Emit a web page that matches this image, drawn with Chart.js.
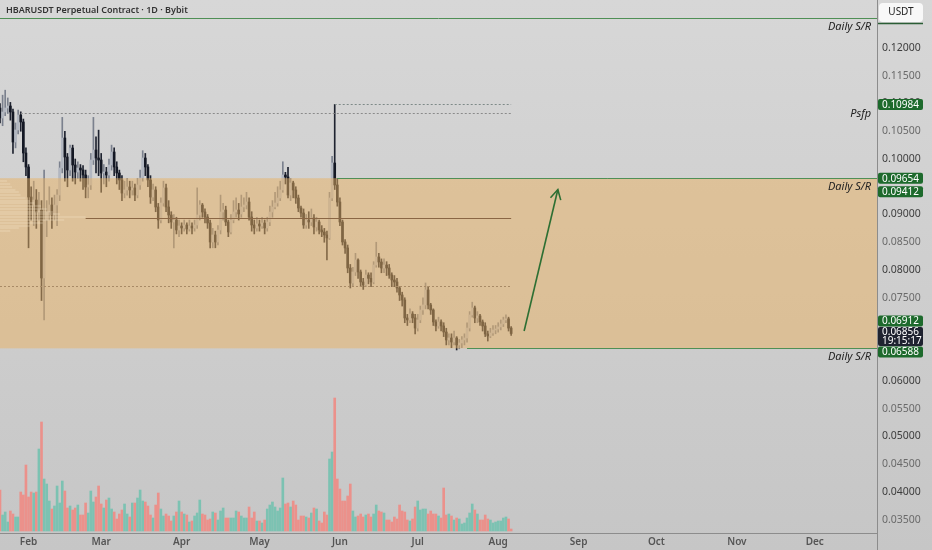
<!DOCTYPE html>
<html>
<head>
<meta charset="utf-8">
<script src="https://cdn.jsdelivr.net/npm/chart.js@4.4.1/dist/chart.umd.min.js"></script>
<style>
html, body { margin: 0; padding: 0; }
body { width: 932px; height: 550px; overflow: hidden; background: linear-gradient(#d7d7d7, #c6c6c6); }
#wrap { position: relative; width: 932px; height: 550px; }
</style>
</head>
<body>
<div id="wrap"><canvas id="chart"></canvas></div>
<script>
// HBARUSDT daily candles (first candle = Jan 21)
const opens = [
  0.10919, 0.10739, 0.10847, 0.10919, 0.10955, 0.10847, 0.10306, 0.10523, 0.10793, 0.10667,
  0.10108, 0.09856, 0.09315, 0.09171, 0.09261, 0.09045, 0.09081, 0.07856, 0.08901, 0.09045,
  0.09171, 0.08991, 0.09171, 0.09351, 0.09838, 0.10378, 0.10036, 0.09802, 0.10198, 0.09892,
  0.09766, 0.09838, 0.09802, 0.09712, 0.09496, 0.09532, 0.09982, 0.10162, 0.10018, 0.09982,
  0.09748, 0.09766, 0.09712, 0.09892, 0.10126, 0.09856, 0.09748, 0.09622, 0.09387, 0.09442,
  0.09496, 0.09442, 0.09478, 0.09351, 0.09532, 0.09658, 0.10018, 0.09856, 0.09622, 0.09315,
  0.09442, 0.09135, 0.08901, 0.09207, 0.09478, 0.09135, 0.08991, 0.08865, 0.08901, 0.08721,
  0.08793, 0.08757, 0.08811, 0.08739, 0.08793, 0.08757, 0.08811, 0.08991, 0.09171, 0.09045,
  0.08955, 0.08847, 0.08505, 0.08631, 0.08505, 0.08721, 0.09045, 0.09081, 0.08865, 0.08685,
  0.08901, 0.09045, 0.09081, 0.09009, 0.09135, 0.09171, 0.09225, 0.08955, 0.08811, 0.08757,
  0.08829, 0.08793, 0.08847, 0.08757, 0.08865, 0.09045, 0.09135, 0.09207, 0.09297, 0.09442,
  0.09712, 0.09676, 0.09351, 0.09568, 0.09442, 0.09297, 0.09117, 0.09027, 0.08811, 0.08901,
  0.08865, 0.08937, 0.08775, 0.08865, 0.08721, 0.08685, 0.08631, 0.08577, 0.09297, 0.09928,
  0.09532, 0.09225, 0.08865, 0.08505, 0.08397, 0.08036, 0.07766, 0.07964, 0.08180, 0.07964,
  0.07784, 0.07730, 0.07910, 0.07850, 0.07784, 0.08090, 0.08235, 0.08144, 0.08036, 0.08090,
  0.08036, 0.07910, 0.07820, 0.07784, 0.07676, 0.07550, 0.07460, 0.07136, 0.07100, 0.07208,
  0.07136, 0.06954, 0.07100, 0.07280, 0.07370, 0.07640, 0.07370, 0.07280, 0.07064, 0.06992,
  0.07064, 0.06992, 0.06883, 0.06739, 0.06775, 0.06703, 0.06775, 0.06649, 0.06685, 0.06739,
  0.06775, 0.06954, 0.07190, 0.07316, 0.07136, 0.07172, 0.07064, 0.06992, 0.06847, 0.06811,
  0.06865, 0.06919, 0.06937, 0.06974, 0.07028, 0.07100, 0.07120, 0.06954
];
const closes = [
  0.10739, 0.10847, 0.10919, 0.10955, 0.10847, 0.10306, 0.10523, 0.10793, 0.10667, 0.10108,
  0.09856, 0.09315, 0.09171, 0.09261, 0.09045, 0.09081, 0.07856, 0.08901, 0.09045, 0.09171,
  0.08991, 0.09171, 0.09351, 0.09838, 0.10378, 0.10036, 0.09802, 0.10198, 0.09892, 0.09766,
  0.09838, 0.09802, 0.09712, 0.09496, 0.09532, 0.09982, 0.10162, 0.10018, 0.09982, 0.09748,
  0.09766, 0.09712, 0.09892, 0.10126, 0.09856, 0.09748, 0.09622, 0.09387, 0.09442, 0.09496,
  0.09442, 0.09478, 0.09351, 0.09532, 0.09658, 0.10018, 0.09856, 0.09622, 0.09315, 0.09442,
  0.09135, 0.08901, 0.09207, 0.09478, 0.09135, 0.08991, 0.08865, 0.08901, 0.08721, 0.08793,
  0.08757, 0.08811, 0.08739, 0.08793, 0.08757, 0.08811, 0.08991, 0.09171, 0.09045, 0.08955,
  0.08847, 0.08505, 0.08631, 0.08505, 0.08721, 0.09045, 0.09081, 0.08865, 0.08685, 0.08901,
  0.09045, 0.09081, 0.09009, 0.09135, 0.09171, 0.09225, 0.08955, 0.08811, 0.08757, 0.08829,
  0.08793, 0.08847, 0.08757, 0.08865, 0.09045, 0.09135, 0.09207, 0.09297, 0.09442, 0.09712,
  0.09676, 0.09351, 0.09568, 0.09442, 0.09297, 0.09117, 0.09027, 0.08811, 0.08901, 0.08865,
  0.08937, 0.08775, 0.08865, 0.08721, 0.08685, 0.08631, 0.08577, 0.09297, 0.09928, 0.09532,
  0.09225, 0.08865, 0.08505, 0.08397, 0.08036, 0.07766, 0.07964, 0.08180, 0.07964, 0.07784,
  0.07730, 0.07910, 0.07850, 0.07784, 0.08090, 0.08235, 0.08144, 0.08036, 0.08090, 0.08036,
  0.07910, 0.07820, 0.07784, 0.07676, 0.07550, 0.07460, 0.07136, 0.07100, 0.07208, 0.07136,
  0.06954, 0.07100, 0.07280, 0.07370, 0.07640, 0.07370, 0.07280, 0.07064, 0.06992, 0.07064,
  0.06992, 0.06883, 0.06739, 0.06775, 0.06703, 0.06775, 0.06649, 0.06685, 0.06739, 0.06775,
  0.06954, 0.07190, 0.07316, 0.07136, 0.07172, 0.07064, 0.06992, 0.06847, 0.06811, 0.06865,
  0.06919, 0.06937, 0.06974, 0.07028, 0.07100, 0.07120, 0.06954, 0.06856
];
const highs = [
  0.11000, 0.11150, 0.11240, 0.11100, 0.11020, 0.10900, 0.10650, 0.10880, 0.10850, 0.10720,
  0.10200, 0.09900, 0.09500, 0.09600, 0.09450, 0.09400, 0.09250, 0.09800, 0.09250, 0.09500,
  0.09300, 0.09350, 0.09450, 0.09950, 0.10750, 0.10500, 0.10100, 0.10250, 0.10250, 0.10000,
  0.09950, 0.09900, 0.09880, 0.09800, 0.09700, 0.10100, 0.10750, 0.10400, 0.10520, 0.10100,
  0.09900, 0.09850, 0.10000, 0.10250, 0.10200, 0.09950, 0.09800, 0.09700, 0.09600, 0.09650,
  0.09600, 0.09600, 0.09550, 0.09650, 0.09800, 0.10150, 0.10100, 0.09900, 0.09700, 0.09550,
  0.09500, 0.09200, 0.09300, 0.09600, 0.09550, 0.09250, 0.09050, 0.09000, 0.08950, 0.08900,
  0.08850, 0.08900, 0.08850, 0.08900, 0.08850, 0.08900, 0.09480, 0.09250, 0.09200, 0.09100,
  0.09000, 0.08900, 0.08750, 0.08700, 0.08800, 0.09350, 0.09200, 0.09150, 0.08900, 0.09000,
  0.09250, 0.09300, 0.09200, 0.09350, 0.09300, 0.09400, 0.09300, 0.09050, 0.08900, 0.08950,
  0.08900, 0.08950, 0.08900, 0.08950, 0.09150, 0.09250, 0.09400, 0.09500, 0.09600, 0.09950,
  0.09760, 0.09850, 0.09650, 0.09600, 0.09500, 0.09350, 0.09150, 0.09100, 0.09000, 0.09050,
  0.09100, 0.09000, 0.08950, 0.08900, 0.08800, 0.08750, 0.08700, 0.09400, 0.10050, 0.10984,
  0.09650, 0.09300, 0.08900, 0.08550, 0.08450, 0.08100, 0.08050, 0.08300, 0.08200, 0.08000,
  0.07850, 0.08000, 0.07950, 0.07950, 0.08150, 0.08500, 0.08300, 0.08200, 0.08200, 0.08150,
  0.08100, 0.07950, 0.07900, 0.07850, 0.07700, 0.07600, 0.07500, 0.07200, 0.07300, 0.07250,
  0.07200, 0.07200, 0.07350, 0.07500, 0.07766, 0.07700, 0.07400, 0.07300, 0.07100, 0.07150,
  0.07100, 0.07050, 0.06950, 0.06850, 0.06850, 0.06900, 0.06800, 0.06750, 0.06800, 0.06850,
  0.07050, 0.07250, 0.07420, 0.07350, 0.07250, 0.07200, 0.07100, 0.07050, 0.06900, 0.06950,
  0.07000, 0.07000, 0.07050, 0.07100, 0.07150, 0.07190, 0.07150, 0.06980
];
const lows = [
  0.10650, 0.10600, 0.10780, 0.10820, 0.10700, 0.10100, 0.10200, 0.10450, 0.10500, 0.09950,
  0.09700, 0.08400, 0.08900, 0.08800, 0.08750, 0.08900, 0.07450, 0.07100, 0.08600, 0.08900,
  0.08750, 0.08900, 0.08800, 0.09250, 0.09750, 0.09600, 0.09500, 0.09700, 0.09600, 0.09550,
  0.09650, 0.09600, 0.09450, 0.09300, 0.09300, 0.09450, 0.09900, 0.09750, 0.09700, 0.09400,
  0.09550, 0.09500, 0.09600, 0.09800, 0.09700, 0.09550, 0.09450, 0.09250, 0.09300, 0.09350,
  0.09300, 0.09350, 0.09250, 0.09300, 0.09450, 0.09600, 0.09700, 0.09500, 0.09200, 0.09250,
  0.09050, 0.08750, 0.08850, 0.09150, 0.09050, 0.08850, 0.08750, 0.08400, 0.08650, 0.08600,
  0.08650, 0.08700, 0.08650, 0.08700, 0.08650, 0.08700, 0.08750, 0.08900, 0.08950, 0.08850,
  0.08750, 0.08400, 0.08400, 0.08400, 0.08450, 0.08650, 0.08900, 0.08800, 0.08600, 0.08650,
  0.08850, 0.08950, 0.08900, 0.08950, 0.09050, 0.09100, 0.08900, 0.08700, 0.08650, 0.08700,
  0.08700, 0.08750, 0.08650, 0.08700, 0.08800, 0.08950, 0.09100, 0.09150, 0.09250, 0.09400,
  0.09550, 0.09300, 0.09250, 0.09300, 0.09200, 0.09050, 0.08950, 0.08750, 0.08750, 0.08750,
  0.08800, 0.08650, 0.08700, 0.08650, 0.08600, 0.08500, 0.08180, 0.08550, 0.09250, 0.09450,
  0.09150, 0.08800, 0.08450, 0.08300, 0.07950, 0.07676, 0.07700, 0.07900, 0.07850, 0.07700,
  0.07650, 0.07700, 0.07750, 0.07700, 0.07750, 0.08050, 0.08050, 0.07950, 0.07950, 0.07900,
  0.07850, 0.07700, 0.07700, 0.07600, 0.07450, 0.07350, 0.07050, 0.07000, 0.07050, 0.07050,
  0.06850, 0.06900, 0.07050, 0.07200, 0.07300, 0.07300, 0.07200, 0.07000, 0.06900, 0.06950,
  0.06900, 0.06800, 0.06650, 0.06650, 0.06600, 0.06650, 0.06559, 0.06580, 0.06600, 0.06650,
  0.06700, 0.06900, 0.07150, 0.07050, 0.07050, 0.07000, 0.06900, 0.06800, 0.06720, 0.06780,
  0.06820, 0.06850, 0.06880, 0.06920, 0.06980, 0.07050, 0.06900, 0.06820
];
const volumes = [
  41, 16, 19, 9, 20, 17, 14, 14, 39, 36,
  66, 34, 39, 38, 39, 82, 109, 52, 47, 30,
  22, 25, 45, 28, 50, 40, 23, 25, 21, 23,
  26, 16, 16, 28, 18, 40, 29, 34, 45, 27,
  23, 31, 33, 22, 19, 12, 17, 21, 27, 17,
  14, 28, 28, 33, 41, 30, 29, 25, 16, 13,
  26, 38, 22, 15, 17, 15, 10, 15, 19, 30,
  19, 17, 16, 9, 10, 15, 18, 31, 17, 16,
  11, 12, 19, 18, 11, 20, 23, 13, 13, 13,
  13, 20, 19, 15, 13, 13, 24, 13, 19, 10,
  10, 8, 11, 22, 26, 29, 24, 20, 23, 53,
  27, 28, 24, 30, 26, 11, 15, 15, 14, 13,
  18, 23, 22, 10, 8, 19, 16, 72, 79, 133,
  52, 42, 30, 30, 35, 47, 20, 14, 15, 17,
  14, 16, 17, 14, 17, 26, 20, 19, 18, 11,
  11, 9, 14, 12, 26, 20, 19, 11, 10, 12,
  24, 30, 21, 22, 22, 17, 20, 17, 17, 15,
  13, 43, 16, 17, 15, 11, 13, 12, 7, 8,
  13, 18, 27, 21, 17, 11, 11, 16, 12, 11,
  8, 9, 10, 10, 13, 14, 12, 2
];

// visible range on the time axis and its month labels
const startDay = Date.UTC(2023, 0, 21);
const dayCount = 339;
const monthLabels = ['Jan', 'Feb', 'Mar', 'Apr', 'May', 'Jun', 'Jul', 'Aug', 'Sep', 'Oct', 'Nov', 'Dec'];

// price levels drawn on the chart
const dailyTop = 0.12541;
const psfpLevel = 0.10984;
const vahLevel = 0.10834;
const zoneTop = 0.09654;
const pocLevel = 0.08937;
const valLevel = 0.07712;
const zoneBottom = 0.06588;
const psfpStart = 129;
const vahStart = 8;
const pocStart = 33;
const zoneTopStart = 130;
const zoneBottomStart = 180;
const rangeEnd = 197;

// fixed-range volume profile (left side)
const profilePrices = [0.0960, 0.0955, 0.0950, 0.0945, 0.0940, 0.0935, 0.0930, 0.0925, 0.0920, 0.0915,
  0.0910, 0.0905, 0.0900, 0.0895, 0.0890, 0.0885, 0.0880, 0.0875, 0.0870];
const profileVolume = [8, 12, 14, 18, 22, 24, 30, 35, 40, 48, 55, 62, 70, 100, 75, 50, 35, 22, 12];

// right axis tags
const tagValues = [0.10984, 0.09654, 0.09412, 0.06912, 0.06588];
const lastPrice = 0.06856;
const countdown = '19:15:17';

// projected move arrow
const arrowDays = [202, 215];
const arrowPrices = [0.06901, 0.09450];

const yMin = 0.03261;
const yMax = 0.12865;
const hiddenTicks = [125, 95, 70, 65];

const days = [];
for (let i = 0; i < dayCount; i++) days.push(new Date(startDay + i * 86400000));
const labels = days.map(d => d.toISOString().slice(0, 10));

const isUp = i => closes[i] >= opens[i];

const overlayPlugin = {
    id: 'overlay',
    afterDatasetDraw(chart, args) {
        if (args.index !== 2) return;
        const { ctx, chartArea: a, scales: { x, y } } = chart;
        const py = v => Math.round(y.getPixelForValue(v)) + 0.5;
        ctx.save();
        ctx.beginPath();
        ctx.rect(a.left, a.top, a.right - a.left, a.bottom - a.top);
        ctx.clip();

        // S/R zone
        const zt = y.getPixelForValue(zoneTop), zb = y.getPixelForValue(zoneBottom);
        ctx.fillStyle = 'rgba(234,178,98,0.5)';
        ctx.fillRect(a.left, zt, a.right - a.left, zb - zt);

        // volume profile rows
        const maxVol = Math.max(...profileVolume);
        const pocX = x.getPixelForValue(pocStart);
        ctx.fillStyle = 'rgba(250,235,210,0.22)';
        profilePrices.forEach((p, k) => {
            const w = (pocX - a.left) * profileVolume[k] / maxVol;
            ctx.fillRect(a.left, Math.round(y.getPixelForValue(p)) - 1, w, 2);
        });

        const hline = (v, from, to, color, dash, width) => {
            ctx.beginPath();
            ctx.setLineDash(dash);
            ctx.strokeStyle = color;
            ctx.lineWidth = width;
            ctx.moveTo(from, py(v));
            ctx.lineTo(to, py(v));
            ctx.stroke();
        };
        const endX = x.getPixelForValue(rangeEnd);
        hline(dailyTop, a.left, a.right, '#4f8f55', [], 1);
        hline(zoneTop, x.getPixelForValue(zoneTopStart), a.right, '#4f8f55', [], 1);
        hline(zoneBottom, x.getPixelForValue(zoneBottomStart), a.right, '#4f8f55', [], 1);
        hline(psfpLevel, x.getPixelForValue(psfpStart), endX, '#7e8a88', [2, 2], 1);
        hline(vahLevel, x.getPixelForValue(vahStart), endX, '#8a8a8a', [2, 2], 1);
        hline(valLevel, a.left, endX, '#a88a66', [2, 2], 1);
        hline(pocLevel, pocX, endX, '#8a6644', [], 1.2);
        ctx.restore();
    },
    afterDraw(chart) {
        const { ctx, chartArea: a, scales: { x, y } } = chart;
        ctx.save();

        // full-height axis separator
        ctx.strokeStyle = '#8c8c8c';
        ctx.lineWidth = 1;
        ctx.beginPath();
        ctx.moveTo(a.right + 0.5, 0);
        ctx.lineTo(a.right + 0.5, chart.height);
        ctx.stroke();

        // arrow head
        const meta = chart.getDatasetMeta(3);
        const p0 = meta.data[0], p1 = meta.data[1];
        const ang = Math.atan2(p1.y - p0.y, p1.x - p0.x);
        ctx.strokeStyle = '#2d6f33';
        ctx.lineWidth = 1.6;
        ctx.beginPath();
        ctx.moveTo(p1.x - 11 * Math.cos(ang - 0.5), p1.y - 11 * Math.sin(ang - 0.5));
        ctx.lineTo(p1.x, p1.y);
        ctx.lineTo(p1.x - 11 * Math.cos(ang + 0.5), p1.y - 11 * Math.sin(ang + 0.5));
        ctx.stroke();

        // level captions
        ctx.fillStyle = '#222';
        ctx.font = 'italic 11px "Noto Sans"';
        ctx.textAlign = 'right';
        ctx.textBaseline = 'middle';
        [dailyTop, zoneTop, zoneBottom].forEach(v => ctx.fillText('Daily S/R', a.right - 6, y.getPixelForValue(v) + 9));
        ctx.fillText('Psfp', a.right - 6, y.getPixelForValue(psfpLevel) + 9);

        // title
        ctx.textAlign = 'left';
        ctx.fillStyle = '#333';
        ctx.font = '600 9px "Noto Sans"';
        ctx.fillText('HBARUSDT Perpetual Contract \u00b7 1D \u00b7 Bybit', 6, 10);

        // price tags on the axis: last price stays put, the others move out of its way
        const tagX = a.right + 1, tagW = 45, tagH = 11;
        const lastC = y.getPixelForValue(lastPrice);
        const lastTop = lastC - 6.5, lastBottom = lastTop + 19;
        const above = tagValues.filter(v => v > lastPrice).sort((p, q) => p - q);
        const below = tagValues.filter(v => v <= lastPrice).sort((p, q) => q - p);
        const boxes = [];
        let limit = lastTop - 0.5;
        above.forEach(v => {
            const top = Math.min(y.getPixelForValue(v) - tagH / 2, limit - tagH);
            boxes.push({ v, top });
            limit = top - 0.5;
        });
        limit = lastBottom + 0.5;
        below.forEach(v => {
            const top = Math.max(y.getPixelForValue(v) - tagH / 2, limit);
            boxes.push({ v, top });
            limit = top + tagH + 0.5;
        });
        ctx.font = '10px "Noto Sans"';
        ctx.textAlign = 'left';
        boxes.forEach(b => {
            ctx.fillStyle = '#1d6a2c';
            ctx.beginPath();
            ctx.roundRect(tagX, b.top, tagW, tagH, 2);
            ctx.fill();
            ctx.fillStyle = '#fff';
            ctx.fillText(b.v.toFixed(5), tagX + 4, b.top + tagH / 2 + 0.5);
        });
        ctx.fillStyle = '#1f2330';
        ctx.beginPath();
        ctx.roundRect(tagX, lastTop, tagW, 19, 2);
        ctx.fill();
        ctx.fillStyle = '#fff';
        ctx.fillText(lastPrice.toFixed(5), tagX + 4, lastTop + 5.5);
        ctx.fillText(countdown, tagX + 4, lastTop + 14);

        // currency button
        ctx.strokeStyle = '#2b5e35';
        ctx.beginPath();
        ctx.moveTo(tagX, 23.5);
        ctx.lineTo(tagX + tagW, 23.5);
        ctx.stroke();
        ctx.fillStyle = 'rgba(250,250,250,0.95)';
        ctx.beginPath();
        ctx.roundRect(tagX + 1, 3, 44, 19, 4);
        ctx.fill();
        ctx.fillStyle = '#222';
        ctx.font = '10px "Noto Sans"';
        ctx.textAlign = 'center';
        ctx.fillText('USDT', tagX + 23, 12.5);
        ctx.restore();
    }
};

new Chart(document.getElementById('chart'), {
    type: 'bar',
    data: {
        labels: labels,
        datasets: [
            {
                label: 'Volume',
                data: volumes,
                yAxisID: 'yv',
                grouped: false,
                order: 3,
                barThickness: 2,
                backgroundColor: c => isUp(c.dataIndex) ? '#7cc2b2' : '#eb918b'
            },
            {
                label: 'Wick',
                data: lows.map((l, i) => [l, highs[i]]),
                yAxisID: 'y',
                grouped: false,
                order: 2,
                barThickness: 1,
                backgroundColor: c => isUp(c.dataIndex) ? '#7b818e' : '#1f2330'
            },
            {
                label: 'Body',
                data: opens.map((o, i) => [o, closes[i]]),
                yAxisID: 'y',
                grouped: false,
                order: 1,
                barThickness: 2,
                minBarLength: 1,
                backgroundColor: c => isUp(c.dataIndex) ? '#b2b7c1' : '#141824'
            },
            {
                type: 'line',
                label: 'Projection',
                data: arrowDays.map((d, k) => ({ x: labels[d], y: arrowPrices[k] })),
                yAxisID: 'y',
                order: 0,
                borderColor: '#2d6f33',
                borderWidth: 1.6,
                pointRadius: 0
            }
        ]
    },
    options: {
        responsive: true,
        maintainAspectRatio: false,
        animation: false,
        layout: { padding: 0 },
        plugins: { legend: { display: false }, tooltip: { enabled: false } },
        scales: {
            x: {
                type: 'category',
                offset: false,
                grid: { display: false, drawTicks: false },
                border: { display: true, color: '#8c8c8c' },
                ticks: {
                    autoSkip: false,
                    maxRotation: 0,
                    padding: 3,
                    color: '#555',
                    font: { family: '"Noto Sans"', size: 10, weight: '600' },
                    callback: (v, i) => days[i].getUTCDate() === 1 ? monthLabels[days[i].getUTCMonth()] : null
                },
                afterFit: s => { s.height = 17; s.paddingLeft = 0; s.paddingRight = 0; }
            },
            y: {
                position: 'right',
                min: yMin,
                max: yMax,
                grid: { display: false, drawTicks: false },
                border: { display: true, color: '#8c8c8c' },
                ticks: {
                    stepSize: 0.005,
                    includeBounds: false,
                    padding: 5,
                    font: { family: '"Noto Sans"', size: 10.5 },
                    color: c => Math.round(c.tick.value * 1000) % 10 === 0 ? '#3d3d3d' : '#6a6a6a',
                    callback: v => hiddenTicks.includes(Math.round(v * 1000)) ? '' : v.toFixed(5)
                },
                afterFit: s => { s.width = 55; s.paddingTop = 0; s.paddingBottom = 0; }
            },
            yv: { display: false, min: -2, max: 531 }
        }
    },
    plugins: [overlayPlugin]
});
</script>
</body>
</html>
